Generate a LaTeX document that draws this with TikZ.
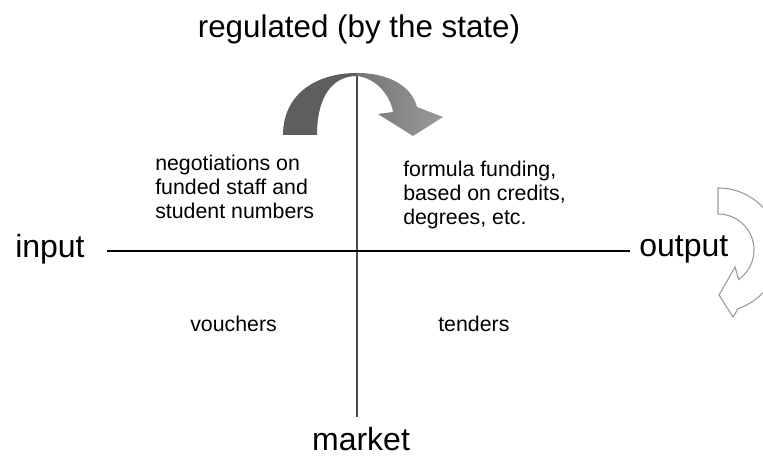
\documentclass[tikz,border=0pt]{standalone}
\usepackage{fontspec}
\setmainfont{Liberation Sans}
\definecolor{backside}{HTML}{5E5E5E}
\definecolor{frontside}{HTML}{747474}
\definecolor{frontlight}{HTML}{9A9A9A}
\definecolor{outlinegray}{HTML}{999999}
\begin{document}
\begin{tikzpicture}[x=0.75pt,y=0.75pt,
    axislabel/.style={inner sep=0pt, font=\fontsize{24}{28}\selectfont},
    cornertext/.style={inner sep=0pt, align=left, font=\fontsize{16}{18}\selectfont}]

  \useasboundingbox (0,0) rectangle (763,459);

  % the two axes
  \coordinate (vtop) at (357,385);
  \coordinate (vbottom) at (357,42);
  \coordinate (hleft) at (107,208);
  \coordinate (hright) at (630,208);
  \draw [line width=0.9pt, black!70] (vtop) -- (vbottom);
  \draw [line width=0.9pt] (hleft) -- (hright);

  % axis labels
  \node [axislabel, font=\fontsize{23.5}{28}\selectfont, anchor=base] (regulated) at (359,421) {regulated (by the state)};
  \node [axislabel, anchor=base west] (input) at (15,201) {input};
  \node [axislabel, anchor=base west] (output) at (639,202) {output};
  \node [axislabel, anchor=base] (market) at (361,8) {market};

  % quadrants (base = last line)
  \node [cornertext, anchor=base west] (negotiations) at (155,240)
    {negotiations on\\funded staff and\\student numbers};
  \node [cornertext, anchor=base west] (formula) at (403,234)
    {formula funding,\\based on credits,\\degrees, etc.};
  \node [cornertext, anchor=base west] (vouchers) at (190,127) {vouchers};
  \node [cornertext, anchor=base west] (tenders) at (438,127) {tenders};

  % curved arrow at the top
  \fill [backside] (283,324) .. controls (283,364) and (315,386) .. (357,386)
    -- (357,383) .. controls (332,383) and (317,362) .. (317,324) -- cycle;
  \shade [left color=frontside, right color=frontlight]
    (357,386) .. controls (390,386) and (412,372) .. (417,352)
    -- (443,342) -- (413,323) -- (378,345) -- (393,347)
    .. controls (390,365) and (375,381) .. (357,383) -- cycle;

  % open arrow at the right edge
  \begin{scope}
    \clip (0,0) rectangle (763,459);
    \draw [outlinegray, line width=0.8pt, fill=white]
      (718,271) arc [start angle=90, end angle=-71, radius=46.5pt]
      -- (733,142) -- (719,164) -- (735,192)
      -- ([shift={(718,209)}]-55:27pt) arc [start angle=-55, end angle=90, radius=27pt]
      -- cycle;
  \end{scope}

\end{tikzpicture}
\end{document}
